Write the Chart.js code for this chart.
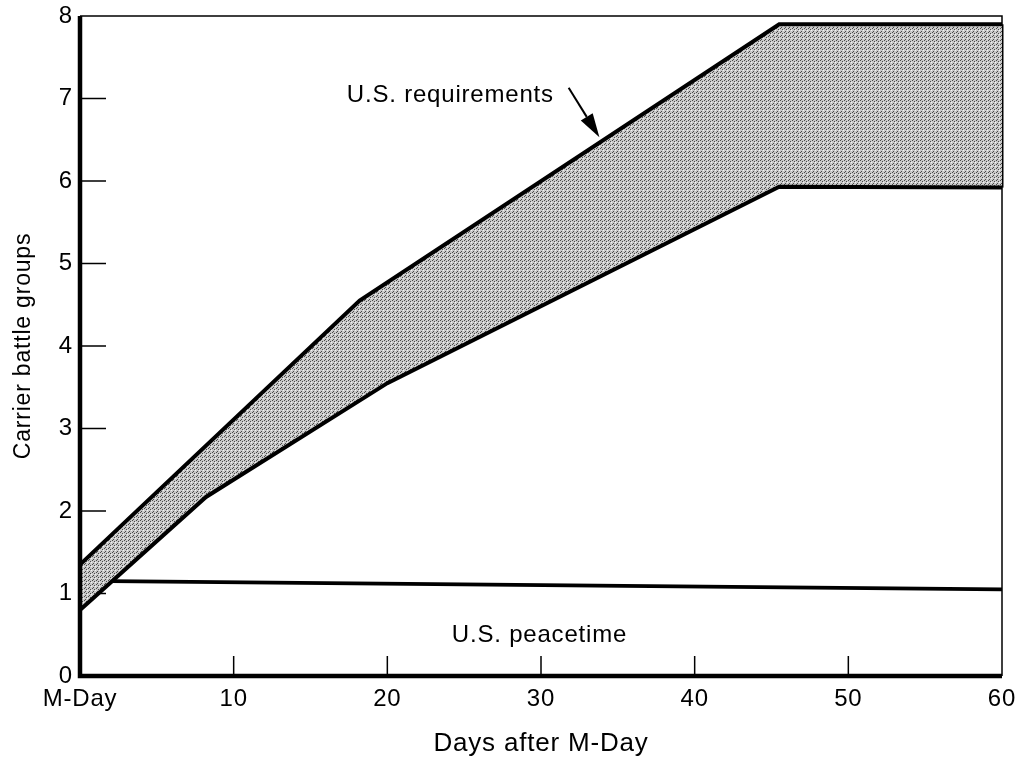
<!DOCTYPE html>
<html>
<head>
  <title>Carrier battle groups</title>
  <script src="https://cdn.jsdelivr.net/npm/chart.js@4.4.0/dist/chart.umd.min.js"></script>
  <style>
    body { margin: 0; background: #fff; }
  </style>
</head>
<body>
  <canvas id="chart" width="1020" height="759"></canvas>

  <script>
    // values (days after M-Day / carrier battle groups)
    const upperDays = [0, 18.2, 45.5, 60];
    const upperGroups = [1.35, 4.55, 7.9, 7.9];
    const lowerDays = [0, 8.2, 20, 45.5, 60];
    const lowerGroups = [0.8, 2.17, 3.55, 5.93, 5.92];
    const peaceDays = [2, 60];
    const peaceGroups = [1.15, 1.05];
    const edgeDays = [60, 60];
    const edgeGroups = [5.92, 7.9];

    const xTickValues = [0, 10, 20, 30, 40, 50, 60];
    const xTickLabels = ['M-Day', '10', '20', '30', '40', '50', '60'];
    const yTickValues = [0, 1, 2, 3, 4, 5, 6, 7, 8];

    const reqLabel = 'U.S. requirements';
    const peaceLabel = 'U.S. peacetime';

    const FONT = '"Liberation Sans", Arial, Helvetica, sans-serif';

    function toPoints(xs, ys) {
      return xs.map((d, i) => ({ x: d, y: ys[i] }));
    }

    // stippled grey fill like the printed screen
    function makeStipple() {
      const c = document.createElement('canvas');
      c.width = 4; c.height = 4;
      const g = c.getContext('2d');
      g.fillStyle = '#c9c9c9';
      g.fillRect(0, 0, 4, 4);
      g.fillStyle = '#4a4a4a';
      g.fillRect(0, 0, 1, 1);
      g.fillRect(2, 1, 1, 1);
      g.fillRect(1, 3, 1, 1);
      g.fillStyle = '#f2f2f2';
      g.fillRect(3, 2, 1, 1);
      return g.createPattern(c, 'repeat');
    }

    const spacing = {
      id: 'spacing',
      beforeUpdate(chart) { chart.ctx.letterSpacing = '0.8px'; },
      beforeDraw(chart) { chart.ctx.letterSpacing = '0.8px'; }
    };

    const frame = {
      id: 'frame',
      beforeDatasetsDraw(chart) {
        const { ctx, chartArea: a, scales: { x, y } } = chart;
        ctx.save();
        ctx.strokeStyle = '#000';
        ctx.lineWidth = 1.5;
        ctx.beginPath();
        ctx.moveTo(a.left, a.top);
        ctx.lineTo(a.right, a.top);
        ctx.lineTo(a.right, a.bottom);
        yTickValues.forEach(v => {
          if (v > 0 && v < 8) {
            const py = y.getPixelForValue(v);
            ctx.moveTo(a.left, py);
            ctx.lineTo(a.left + 26, py);
          }
        });
        xTickValues.forEach(v => {
          if (v > 0 && v < 60) {
            const px = x.getPixelForValue(v);
            ctx.moveTo(px, a.bottom);
            ctx.lineTo(px, a.bottom - 20);
          }
        });
        ctx.stroke();
        ctx.restore();
      },
      afterDatasetsDraw(chart) {
        const { ctx, chartArea: a, scales: { x, y } } = chart;
        ctx.save();
        ctx.strokeStyle = '#000';
        ctx.lineWidth = 4.5;
        ctx.beginPath();
        ctx.moveTo(a.left, a.top);
        ctx.lineTo(a.left, a.bottom);
        ctx.lineTo(a.right, a.bottom);
        ctx.stroke();

        // labels and arrow
        ctx.fillStyle = '#000';
        ctx.font = '24px ' + FONT;
        ctx.textAlign = 'center';
        ctx.textBaseline = 'alphabetic';
        ctx.fillText(reqLabel, x.getPixelForValue(24.1), y.getPixelForValue(6.96));
        ctx.fillText(peaceLabel, x.getPixelForValue(29.9), y.getPixelForValue(0.41));

        const x0 = x.getPixelForValue(31.8), y0 = y.getPixelForValue(7.13);
        const x1 = x.getPixelForValue(33.8), y1 = y.getPixelForValue(6.53);
        const ang = Math.atan2(y1 - y0, x1 - x0);
        const hl = 24, hw = 7;
        const bx = x1 - hl * Math.cos(ang), by = y1 - hl * Math.sin(ang);
        ctx.lineWidth = 2;
        ctx.beginPath();
        ctx.moveTo(x0, y0);
        ctx.lineTo(bx, by);
        ctx.stroke();
        ctx.beginPath();
        ctx.moveTo(x1, y1);
        ctx.lineTo(bx + hw * Math.sin(ang), by - hw * Math.cos(ang));
        ctx.lineTo(bx - hw * Math.sin(ang), by + hw * Math.cos(ang));
        ctx.closePath();
        ctx.fill();
        ctx.restore();
      }
    };

    const ctx = document.getElementById('chart');
    const lineStyle = { borderColor: '#000', borderWidth: 4, pointRadius: 0, tension: 0, clip: false };

    new Chart(ctx, {
      type: 'line',
      data: {
        datasets: [
          Object.assign({ label: 'lower', data: toPoints(lowerDays, lowerGroups), fill: false }, lineStyle),
          Object.assign({ label: 'upper', data: toPoints(upperDays, upperGroups), fill: '-1', backgroundColor: makeStipple() }, lineStyle),
          Object.assign({ label: 'peacetime', data: toPoints(peaceDays, peaceGroups), fill: false }, lineStyle),
          Object.assign({ label: 'edge', data: toPoints(edgeDays, edgeGroups), fill: false }, lineStyle, { borderWidth: 3 })
        ]
      },
      options: {
        responsive: false,
        animation: false,
        layout: { padding: { top: 16, right: 18, left: 0, bottom: 0 } },
        plugins: { legend: { display: false }, tooltip: { enabled: false } },
        scales: {
          x: {
            type: 'linear',
            min: 0, max: 60,
            afterFit(s) { s.height = 83; s.paddingLeft = 0; s.paddingRight = 0; },
            afterBuildTicks(s) { s.ticks = xTickValues.map(v => ({ value: v })); },
            grid: { display: false, drawTicks: false },
            border: { display: false },
            ticks: {
              color: '#000',
              font: { family: FONT, size: 24 },
              padding: 9,
              maxRotation: 0,
              callback: (v) => xTickLabels[xTickValues.indexOf(v)]
            },
            title: {
              display: true,
              text: 'Days after M-Day',
              color: '#000',
              font: { family: FONT, size: 26 },
              padding: { top: 0, bottom: 0 }
            }
          },
          y: {
            min: 0, max: 8,
            afterFit(s) { s.width = 80; s.paddingTop = 0; s.paddingBottom = 0; },
            afterBuildTicks(s) { s.ticks = yTickValues.map(v => ({ value: v })); },
            grid: { display: false, drawTicks: false },
            border: { display: false },
            ticks: {
              color: '#000',
              font: { family: FONT, size: 24 },
              padding: 7
            },
            title: {
              display: true,
              text: 'Carrier battle groups',
              color: '#000',
              font: { family: FONT, size: 23 },
              padding: { top: 10, bottom: 0 }
            }
          }
        }
      },
      plugins: [spacing, frame]
    });
  </script>
</body>
</html>
